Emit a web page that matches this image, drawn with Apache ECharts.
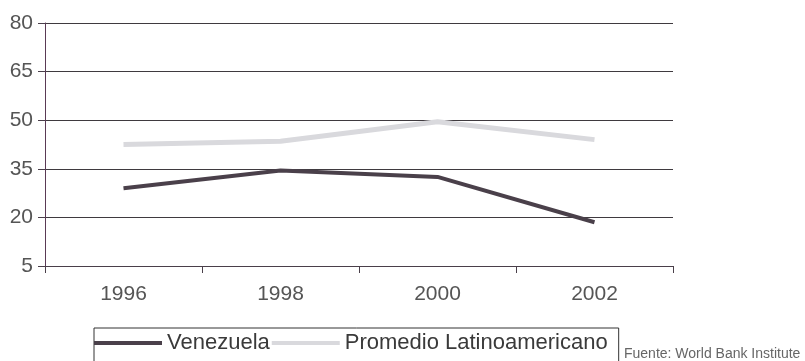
<!DOCTYPE html>
<html>
<head>
<meta charset="utf-8">
<script src="https://cdn.jsdelivr.net/npm/echarts@6/dist/echarts.min.js"></script>
<style>
  html, body { margin: 0; padding: 0; background: #fff; }
  #main { width: 805px; height: 361px; }
</style>
</head>
<body>
<div id="main"></div>
<script>
var years = ['1996', '1998', '2000', '2002'];
var venezuela = [29, 34.5, 32.5, 18.5];
var promedio = [42.5, 43.5, 49.5, 44];

var chart = echarts.init(document.getElementById('main'));
var option = {
  animation: false,
  backgroundColor: '#ffffff',
  grid: { left: 45, right: 132, top: 23, bottom: 95 },
  legend: {
    left: 94,
    top: 328,
    itemWidth: 68,
    itemHeight: 4,
    itemGap: 2,
    padding: [4, 11, 14, 0],
    borderColor: '#333',
    borderWidth: 1,
    textStyle: { fontFamily: 'Liberation Sans', fontSize: 22, color: '#3a3a3a' },
    data: [
      { name: 'Venezuela', icon: 'rect' },
      { name: 'Promedio Latinoamericano', icon: 'rect' }
    ]
  },
  graphic: [{
    type: 'text',
    left: 624,
    top: 347,
    style: { text: 'Fuente: World Bank Institute', fontSize: 14, fill: '#666', fontFamily: 'Liberation Sans' }
  }],
  xAxis: {
    type: 'category',
    data: years,
    boundaryGap: true,
    axisLine: { lineStyle: { color: '#4a3f4a', width: 1 } },
    axisTick: { show: true, length: 7, lineStyle: { color: '#4a3f4a' } },
    axisLabel: { fontFamily: 'Liberation Sans', fontSize: 21, color: '#555', margin: 18 }
  },
  yAxis: {
    type: 'value',
    min: 5,
    max: 80,
    interval: 15,
    axisLine: { show: true, lineStyle: { color: '#5a3a55', width: 1 } },
    axisTick: { show: true, length: 7, lineStyle: { color: '#4a3f4a' } },
    splitLine: { lineStyle: { color: '#3f3a3f', width: 1 } },
    axisLabel: { fontFamily: 'Liberation Sans', fontSize: 21, color: '#555', margin: 12 }
  },
  series: [
    {
      name: 'Venezuela',
      type: 'line',
      data: venezuela,
      symbol: 'none',
      color: '#4a404a',
      lineStyle: { width: 4, color: '#4a404a' }
    },
    {
      name: 'Promedio Latinoamericano',
      type: 'line',
      data: promedio,
      symbol: 'none',
      color: '#d9d9dd',
      lineStyle: { width: 5, color: '#d9d9dd' }
    }
  ]
};
chart.setOption(option);
</script>
</body>
</html>
